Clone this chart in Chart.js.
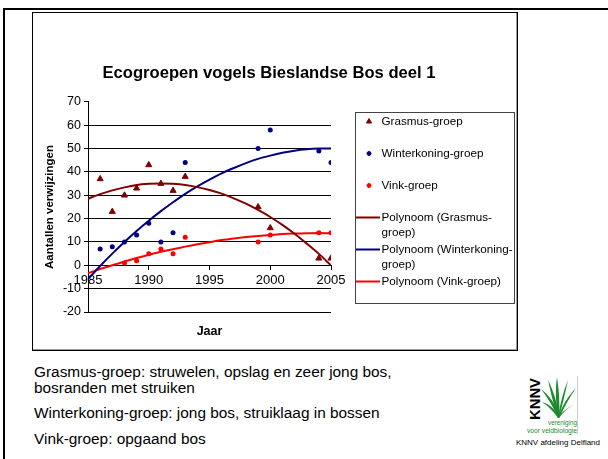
<!DOCTYPE html>
<html>
<head>
<meta charset="utf-8">
<script src="https://cdn.jsdelivr.net/npm/chart.js@4.4.1/dist/chart.umd.min.js"></script>
<style>
  body { margin: 0; width: 608px; height: 459px; overflow: hidden; background: #fff; position: relative;
         font-family: "Liberation Sans", Arial, sans-serif; }
  #frame { position: absolute; left: 3px; top: 8px; width: 700px; height: 600px;
           border-left: 2px solid #000; border-top: 2px solid #000; }
  #box { position: absolute; left: 32px; top: 12px; width: 484px; height: 337px;
         border: 1px solid #000; box-shadow: inset -1px -1px 0 #999; }
  #wrap { position: absolute; left: 33px; top: 12px; width: 484px; height: 338px; }
  .note { position: absolute; left: 34px; font-size: 15.4px; line-height: 16px; color: #000; white-space: nowrap; }
  #logo { position: absolute; left: 524px; top: 374px; }
  #afd { position: absolute; left: 508px; width: 100px; top: 438px; font-size: 8px; text-align: center; color: #000; }
</style>
</head>
<body>
<div id="frame"></div>
<div id="box"></div>
<div id="wrap"><canvas id="chart" width="484" height="338"></canvas></div>

<div class="note" style="top:364px">Grasmus-groep: struwelen, opslag en zeer jong bos,<br>bosranden met struiken</div>
<div class="note" style="top:405px">Winterkoning-groep: jong bos, struiklaag in bossen</div>
<div class="note" style="top:431px">Vink-groep: opgaand bos</div>

<svg id="logo" width="58" height="62" viewBox="0 0 58 62">
  <line x1="53.5" y1="2" x2="53.5" y2="60" stroke="#ccc" stroke-width="1"/>
  <text transform="translate(16,46) rotate(-90)" font-family="Liberation Sans, Arial" font-weight="bold"
        font-size="14" textLength="42" lengthAdjust="spacingAndGlyphs">KNNV</text>
  <g fill="#1b8b2e">
    <path d="M34,44 C30,34 24,24 17,15 C25,21 31,30 35,40 Z"/>
    <path d="M34,44 C30,32 27,20 24,6 C30,18 33,30 35,40 Z"/>
    <path d="M34,44 C32,30 31,16 33,3 C35,16 36,30 35,44 Z"/>
    <path d="M34,44 C36,30 39,18 44,6 C41,20 38,32 35,44 Z"/>
    <path d="M34,44 C38,32 44,22 52,14 C45,24 40,34 35,44 Z"/>
    <path d="M34,44 C30,38 24,32 18,28 C26,30 31,36 35,42 Z"/>
    <path d="M35,44 C39,38 45,33 51,30 C44,33 39,38 34,42 Z"/>
  </g>
  <text x="24" y="51" font-family="Liberation Sans, Arial" font-size="7" fill="#1b8b2e"
        textLength="29" lengthAdjust="spacingAndGlyphs">vereniging</text>
  <text x="3" y="59" font-family="Liberation Sans, Arial" font-size="7" fill="#1b8b2e"
        textLength="50" lengthAdjust="spacingAndGlyphs">voor veldbiologie</text>
</svg>
<div id="afd">KNNV afdeling Delfland</div>

<script>
// values
const grasmusYears = [1986, 1987, 1988, 1989, 1990, 1991, 1992, 1993, 1999, 2000, 2004, 2005];
const grasmusValues = [37, 23, 30, 33, 43, 35, 32, 38, 25, 16, 3, 3];

const winterYears = [1986, 1987, 1988, 1989, 1990, 1991, 1992, 1993, 1999, 2000, 2004, 2005];
const winterValues = [7, 8, 10, 13, 18, 10, 14, 44, 50, 58, 49, 44];

const vinkYears = [1988, 1989, 1990, 1991, 1992, 1993, 1999, 2000, 2004, 2005];
const vinkValues = [1, 2, 5, 7, 5, 12, 10, 13, 14, 14];

// trend lines (polynoom)
const trendYears = [1985, 1986, 1987, 1988, 1989, 1990, 1991, 1992, 1993, 1994, 1995,
                    1996, 1997, 1998, 1999, 2000, 2001, 2002, 2003, 2004, 2005];
const grasmusTrend = [28.5, 30.5, 32.1, 33.4, 34.4, 34.9, 35.1, 34.9, 34.4, 33.5, 32.3,
                      30.7, 28.7, 26.4, 23.7, 20.7, 17.3, 13.5, 9.3, 4.9, 0.0];
const winterTrend = [-5.9, -0.3, 5.0, 10.0, 14.7, 19.1, 23.2, 27.0, 30.6, 33.8, 36.7,
                     39.4, 41.7, 43.8, 45.6, 47.0, 48.2, 49.1, 49.7, 50.0, 50.0];
const vinkTrend = [-3.4, -1.6, 0.0, 1.6, 3.1, 4.5, 5.8, 6.9, 8.0, 9.0, 9.9,
                   10.8, 11.5, 12.1, 12.6, 13.0, 13.4, 13.6, 13.7, 13.8, 13.7];

const yMin = -20, yMax = 70, yStep = 10;
const xMin = 1985, xMax = 2005, xStep = 5;

const DARKRED = '#800000', NAVY = '#000080', RED = '#ff0000';
const FONT = '"Liberation Sans", Arial, sans-serif';

function pts(xs, ys) {
  return xs.map((x, i) => ({ x: x, y: ys[i] }));
}

// side legend drawn inside the chart canvas
function wrapText(ctx, text, maxW) {
  const parts = text.split(/(?<=-)|(?= )/);
  const lines = [];
  let cur = '';
  parts.forEach(p => {
    if (cur && ctx.measureText(cur + p).width > maxW) {
      lines.push(cur);
      cur = p.trimStart();
    } else {
      cur += p;
    }
  });
  if (cur) lines.push(cur);
  return lines;
}

const sideLegend = {
  id: 'sideLegend',
  afterDraw(chart) {
    const ctx = chart.ctx;
    ctx.save();
    ctx.strokeStyle = '#444';
    ctx.lineWidth = 1;
    ctx.strokeRect(322.5, 100.5, 159, 191);
    ctx.font = '11.7px ' + FONT;
    ctx.textBaseline = 'middle';
    ctx.fillStyle = '#000';
    let y = 109.5;
    chart.data.datasets.forEach(ds => {
      if (ds.type === 'line') {
        ctx.strokeStyle = ds.borderColor;
        ctx.lineWidth = 2;
        ctx.beginPath();
        ctx.moveTo(323, y);
        ctx.lineTo(347, y);
        ctx.stroke();
      } else {
        ctx.fillStyle = ds.backgroundColor;
        ctx.strokeStyle = ds.backgroundColor;
        ctx.lineWidth = 1;
        Chart.helpers.drawPoint(ctx, {
          pointStyle: ds.pointStyle,
          radius: ds.pointStyle === 'triangle' ? 3 : 2,
          rotation: 0, borderWidth: 1
        }, 336, y);
      }
      ctx.fillStyle = '#000';
      const lines = wrapText(ctx, ds.label, 133);
      lines.forEach((t, i) => ctx.fillText(t, 348.5, y + i * 15));
      y += 32;
    });
    ctx.restore();
  }
};

new Chart(document.getElementById('chart'), {
  type: 'scatter',
  data: {
    datasets: [
      { type: 'scatter', label: 'Grasmus-groep', data: pts(grasmusYears, grasmusValues),
        pointStyle: 'triangle', pointRadius: 3.5, backgroundColor: DARKRED, borderColor: DARKRED, borderWidth: 1 },
      { type: 'scatter', label: 'Winterkoning-groep', data: pts(winterYears, winterValues),
        pointStyle: 'circle', pointRadius: 2.5, backgroundColor: NAVY, borderColor: NAVY, borderWidth: 0 },
      { type: 'scatter', label: 'Vink-groep', data: pts(vinkYears, vinkValues),
        pointStyle: 'circle', pointRadius: 2.5, backgroundColor: RED, borderColor: RED, borderWidth: 0 },
      { type: 'line', label: 'Polynoom (Grasmus-groep)', data: pts(trendYears, grasmusTrend),
        borderColor: DARKRED, borderWidth: 2, pointRadius: 0, tension: 0.3, fill: false },
      { type: 'line', label: 'Polynoom (Winterkoning-groep)', data: pts(trendYears, winterTrend),
        borderColor: NAVY, borderWidth: 2, pointRadius: 0, tension: 0.3, fill: false },
      { type: 'line', label: 'Polynoom (Vink-groep)', data: pts(trendYears, vinkTrend),
        borderColor: RED, borderWidth: 2, pointRadius: 0, tension: 0.3, fill: false }
    ]
  },
  options: {
    responsive: false,
    animation: false,
    layout: { padding: { left: 0, right: 12, top: 0, bottom: 0 } },
    plugins: {
      legend: { display: false },
      tooltip: { enabled: false },
      title: {
        display: true,
        text: 'Ecogroepen vogels Bieslandse Bos deel 1',
        color: '#000',
        font: { family: FONT, size: 16.6, weight: 'bold', lineHeight: 1.2 },
        padding: { top: 51, bottom: 19 }
      }
    },
    scales: {
      x: {
        type: 'linear',
        position: { y: 0 },
        min: xMin, max: xMax,
        ticks: { stepSize: xStep, color: '#000', font: { family: FONT, size: 13 }, padding: 3,
                 maxRotation: 0, callback: v => String(v) },
        grid: { drawOnChartArea: false, color: '#000', tickLength: 4 },
        border: { color: '#000', width: 1 }
      },
      xb: {
        type: 'linear', axis: 'x', position: 'bottom',
        min: xMin, max: xMax,
        ticks: { display: false },
        grid: { display: false },
        border: { display: false },
        title: { display: true, text: 'Jaar', color: '#000',
                 font: { family: FONT, size: 12.5, weight: 'bold', lineHeight: 1.2 },
                 padding: { top: 11, bottom: 11 } },
        afterFit: s => { s.height = 38; }
      },
      y: {
        type: 'linear', position: 'left',
        min: yMin, max: yMax,
        ticks: { stepSize: yStep, color: '#000', font: { family: FONT, size: 12.5 }, padding: 3 },
        grid: {
          color: ctx => (ctx.tick && ctx.tick.value === yMax) ? 'rgba(0,0,0,0)' : '#000',
          tickColor: '#000', tickLength: 4, lineWidth: 1
        },
        border: { color: '#000', width: 1 },
        title: { display: true, text: 'Aantallen verwijzingen', color: '#000',
                 font: { family: FONT, size: 11.5, weight: 'bold', lineHeight: 1.2 },
                 padding: { top: 10, bottom: 10 } },
        afterFit: s => { s.width = 55; }
      },
      yr: {
        type: 'linear', axis: 'y', position: 'right',
        min: yMin, max: yMax,
        ticks: { display: false },
        grid: { display: false },
        border: { display: false },
        afterFit: s => { s.width = 174; }
      }
    }
  },
  plugins: [sideLegend]
});
</script>
</body>
</html>
